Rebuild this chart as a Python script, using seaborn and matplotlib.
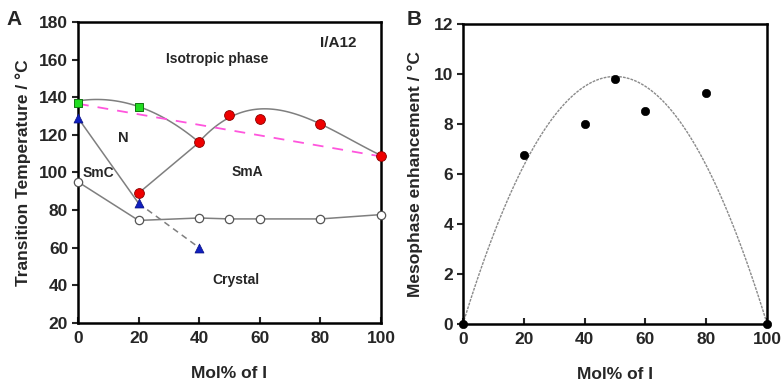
"""
Phase diagram of I/A12 mixtures (A) and mesophase enhancement vs composition (B).
"""
import numpy as np
import pandas as pd
import matplotlib
matplotlib.use("Agg")
import matplotlib.pyplot as plt
import seaborn as sns

# --- Panel A data (Mol% of I vs transition temperature / degC) ---
n_x = [0, 20]
n_t = [137, 135]                                   # green squares (N-I)
smc_x = [0, 20, 40]
smc_t = [129, 83.6, 60]                            # blue triangles (SmC-N / SmC-SmA)
sma_x = [20, 40, 50, 60, 80, 100]
sma_t = [89, 116, 130.5, 128.5, 126, 109]          # red circles (SmA-I / SmA-N)
cr_x = [0, 20, 40, 50, 60, 80, 100]
cr_t = [95, 74.5, 75.8, 75.3, 75.3, 75.3, 77.6]    # open circles (melting)

# curves (fitted lines)
top_curve_x = [0, 20, 40]
top_curve_t = [138, 135, 116]
sma_curve_x = [40, 50, 60, 80, 100]
sma_curve_t = [116, 130, 133, 126, 109]
ideal_x = [0, 100]
ideal_t = [136.5, 108.5]

# --- Panel B data ---
enh_x = [0, 20, 40, 50, 60, 80, 100]
enh_y = [0, 6.75, 8.0, 9.8, 8.5, 9.25, 0]
fit_x = [0, 50, 100]
fit_y = [0, 9.9, 0]

sns.set_style("ticks")
plt.rcParams["font.family"] = ["Liberation Sans", "DejaVu Sans"]
plt.rcParams["font.weight"] = "bold"

fig = plt.figure(figsize=(7.82, 3.87), dpi=100)
ax_a = fig.add_axes([0.0997, 0.1654, 0.3875, 0.778])
ax_b = fig.add_axes([0.592, 0.163, 0.389, 0.775])

line_grey = "#7f7f7f"

# ---------------- Panel A ----------------
sns.regplot(x=top_curve_x, y=top_curve_t, order=2, scatter=False, ci=None,
            truncate=True, color=line_grey, line_kws={"lw": 1.1}, ax=ax_a)
sns.regplot(x=sma_curve_x, y=sma_curve_t, order=3, scatter=False, ci=None,
            truncate=True, color=line_grey, line_kws={"lw": 1.1}, ax=ax_a)
sns.lineplot(x=sma_x[:2], y=sma_t[:2], color=line_grey, lw=1.1, ax=ax_a)
sns.lineplot(x=smc_x[:2], y=smc_t[:2], color=line_grey, lw=1.1, ax=ax_a)
ax_a.plot(smc_x[1:], smc_t[1:], color=line_grey, lw=1.1, ls=(0, (4, 3)))
sns.lineplot(x=cr_x, y=cr_t, color=line_grey, lw=1.1, ax=ax_a)
ax_a.plot(ideal_x, ideal_t, color="#ff55dd", lw=1.3, ls=(0, (6, 5)))

sns.scatterplot(x=cr_x, y=cr_t, marker="o", s=36, color="white",
                edgecolor="#555555", linewidth=0.9, ax=ax_a, zorder=5, clip_on=False)
sns.scatterplot(x=sma_x, y=sma_t, marker="o", s=50, color="#ee0000",
                edgecolor="#880000", linewidth=0.6, ax=ax_a, zorder=5, clip_on=False)
sns.scatterplot(x=smc_x, y=smc_t, marker="^", s=42, color="#1020c0",
                edgecolor="#0a1080", linewidth=0.5, ax=ax_a, zorder=5, clip_on=False)
sns.scatterplot(x=n_x, y=n_t, marker="s", s=40, color="#22dd22",
                edgecolor="#117711", linewidth=0.7, ax=ax_a, zorder=6, clip_on=False)

ax_a.text(46, 160.5, "Isotropic phase", ha="center", va="center", fontsize=10)
ax_a.text(86, 169, "I/A12", ha="center", va="center", fontsize=11)
ax_a.text(15, 118.5, "N", ha="center", va="center", fontsize=10.5)
ax_a.text(1.5, 99.5, "SmC", ha="left", va="center", fontsize=10)
ax_a.text(56, 100, "SmA", ha="center", va="center", fontsize=10)
ax_a.text(52, 43, "Crystal", ha="center", va="center", fontsize=10)

ax_a.set_xlim(0, 100)
ax_a.set_ylim(20, 180)
ax_a.set_xticks([0, 20, 40, 60, 80, 100])
ax_a.set_yticks(range(20, 181, 20))
ax_a.set_xlabel("Mol% of I", fontsize=12.5, fontweight="bold", labelpad=14)
ax_a.set_ylabel("Transition Temperature / \u00b0C", fontsize=12.5, fontweight="bold", labelpad=6)

# ---------------- Panel B ----------------
sns.regplot(x=fit_x, y=fit_y, order=2, scatter=False, ci=None, truncate=True,
            color="#8a8a8a", line_kws={"lw": 1.0, "ls": (0, (2, 0.8))}, ax=ax_b)
sns.scatterplot(x=enh_x, y=enh_y, marker="o", s=36, color="black",
                edgecolor="black", ax=ax_b, zorder=5, clip_on=False)

ax_b.set_xlim(0, 100)
ax_b.set_ylim(0, 12)
ax_b.set_xticks([0, 20, 40, 60, 80, 100])
ax_b.set_yticks(range(0, 13, 2))
ax_b.set_xlabel("Mol% of I", fontsize=12.5, fontweight="bold", labelpad=14)
ax_b.set_ylabel("Mesophase enhancement / \u00b0C", fontsize=12.5, fontweight="bold", labelpad=8)

for ax in (ax_a, ax_b):
    for sp in ax.spines.values():
        sp.set_visible(True)
        sp.set_linewidth(1.8)
        sp.set_color("black")
    ax.tick_params(axis="y", direction="out", length=4, width=1.5, labelsize=12.5, pad=3)
    ax.tick_params(axis="x", direction="in", length=4, width=1.5, labelsize=12.5, pad=6)
    for lab in ax.get_xticklabels() + ax.get_yticklabels():
        lab.set_fontweight("bold")

fig.text(0.008, 0.975, "A", fontsize=15, fontweight="bold", va="top")
fig.text(0.52, 0.975, "B", fontsize=15, fontweight="bold", va="top")

fig.savefig("out.png", dpi=100)
